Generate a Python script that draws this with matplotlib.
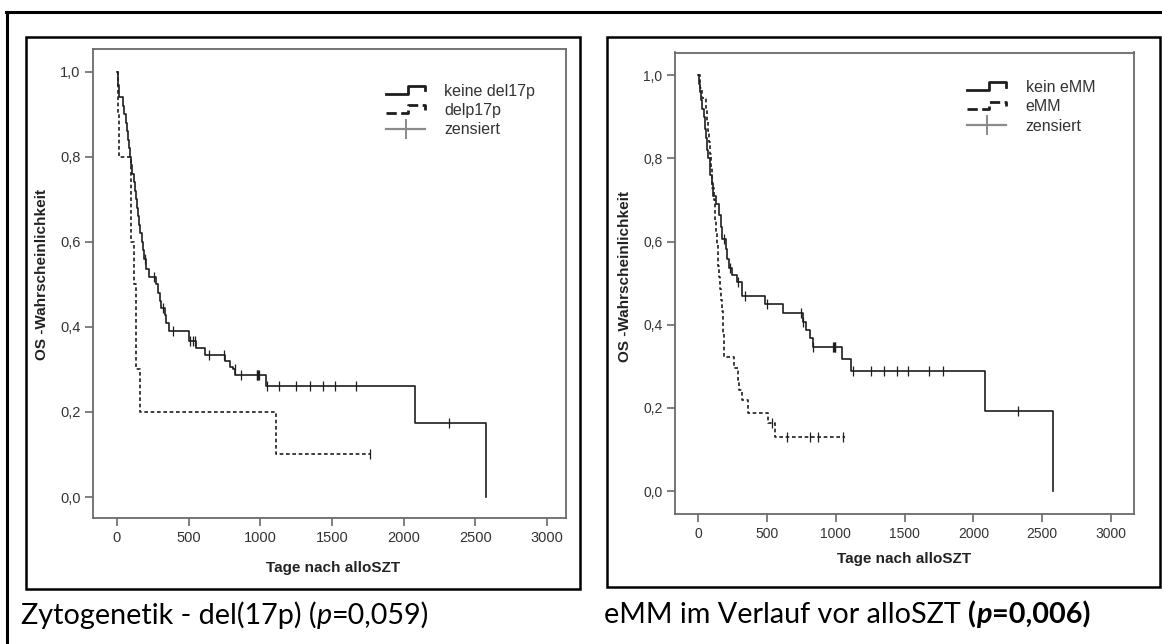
import numpy as np
import matplotlib
matplotlib.use("Agg")
import matplotlib.pyplot as plt
from matplotlib.lines import Line2D
from matplotlib.patches import Rectangle
from matplotlib.text import Annotation
from matplotlib.legend_handler import HandlerBase

# ---- data: Kaplan-Meier steps (days, survival) and censored times ----
# left panel: del(17p)
keine_del17p_t = [0, 8, 17, 45, 52, 60, 68, 76, 84, 92, 100, 108, 116, 124, 132, 140,
                  148, 156, 164, 172, 180, 188, 205, 222, 270, 283, 298, 310, 332, 345,
                  362, 500, 554, 617, 757, 792, 811, 827, 1040, 2079, 2574]
keine_del17p_s = [1.0, 0.97, 0.94, 0.92, 0.90, 0.88, 0.86, 0.84, 0.82, 0.80, 0.78, 0.76,
                  0.74, 0.72, 0.70, 0.68, 0.66, 0.64, 0.62, 0.60, 0.58, 0.56, 0.537, 0.518,
                  0.50, 0.48, 0.46, 0.445, 0.428, 0.41, 0.39, 0.368, 0.35, 0.335, 0.32,
                  0.307, 0.30, 0.286, 0.26, 0.173, 0.0]
keine_del17p_cens = [198, 262, 322, 390, 512, 530, 547, 640, 745, 822, 869, 974, 980,
                     985, 990, 1049, 1128, 1250, 1348, 1437, 1521, 1668, 2317]

del17p_t = [0, 5, 17, 95, 100, 116, 132, 136, 161, 1107, 1768]
del17p_s = [1.0, 0.9, 0.8, 0.7, 0.6, 0.5, 0.4, 0.3, 0.2, 0.1, 0.1]
del17p_cens = [1768]

# right panel: eMM
kein_emm_t = [0, 8, 14, 22, 30, 42, 54, 60, 66, 75, 90, 100, 110, 130, 155, 165, 172,
              200, 213, 228, 250, 280, 317, 490, 614, 760, 784, 813, 832, 1044, 1112,
              2087, 2580]
kein_emm_s = [1.0, 0.98, 0.96, 0.94, 0.92, 0.90, 0.87, 0.85, 0.82, 0.80, 0.76, 0.74,
              0.71, 0.69, 0.663, 0.635, 0.607, 0.583, 0.559, 0.536, 0.52, 0.503, 0.468,
              0.45, 0.429, 0.407, 0.387, 0.367, 0.347, 0.317, 0.289, 0.192, 0.0]
kein_emm_cens = [189, 232, 293, 343, 502, 745, 766, 837, 978, 985, 992, 998, 1128,
                 1255, 1352, 1444, 1524, 1675, 1777, 2325]

emm_t = [0, 15, 30, 55, 65, 72, 80, 85, 95, 100, 105, 118, 124, 127, 130, 140, 143,
         146, 150, 163, 168, 175, 180, 185, 188, 191, 262, 290, 300, 318, 360, 505,
         559, 1068]
emm_s = [1.0, 0.97, 0.946, 0.92, 0.89, 0.865, 0.84, 0.81, 0.78, 0.757, 0.73, 0.70,
         0.676, 0.649, 0.622, 0.595, 0.568, 0.541, 0.514, 0.487, 0.46, 0.433, 0.406,
         0.379, 0.352, 0.323, 0.295, 0.267, 0.243, 0.219, 0.187, 0.163, 0.131, 0.131]
emm_cens = [534, 643, 813, 874, 1056]

y_ticks = [0.0, 0.2, 0.4, 0.6, 0.8, 1.0]
y_ticklabels = ["0,0", "0,2", "0,4", "0,6", "0,8", "1,0"]
x_ticks = [0, 500, 1000, 1500, 2000, 2500, 3000]

W, H = 1162, 644
FONT = "Liberation Sans"
LINE = "#1e1e1e"


def km_at(times, surv, t):
    idx = np.searchsorted(np.asarray(times), t, side="right") - 1
    return np.asarray(surv)[idx]


class StepHandler(HandlerBase):
    def create_artists(self, legend, orig_handle, xdescent, ydescent, width, height,
                       fontsize, trans):
        x0, y0 = -xdescent, -ydescent
        xs = [x0, x0 + 0.55 * width, x0 + 0.55 * width, x0 + width, x0 + width]
        ys = [y0 + 0.15 * height, y0 + 0.15 * height, y0 + 0.85 * height,
              y0 + 0.85 * height, y0 + 0.45 * height]
        ln = Line2D(xs, ys, color=orig_handle.get_color(), lw=2.0,
                    linestyle=orig_handle.get_linestyle(), transform=trans)
        return [ln]


def fx(px):
    return px / W


def fy(py):
    return 1 - py / H


def draw_panel(ax, curves, labels, tick_fs, lab_fs, xlim, ylim, ylab_pos, xlab_pos,
               leg_anchor):
    handles = []
    for (t, s, c, ls) in curves:
        ax.step(t, s, where="post", color=LINE, lw=1.2, ls=ls)
        ax.plot(c, km_at(t, s, c), ls="none", marker="|", ms=7, mew=0.9, color=LINE)
        handles.append(Line2D([], [], color=LINE, ls=ls))
    cens_h = Line2D([], [], color="#8a8a8a", lw=1.6, marker="|", ms=14, mew=1.4)
    handles.append(cens_h)
    ax.set_xlim(*xlim)
    ax.set_ylim(*ylim)
    ax.set_xticks(x_ticks)
    ax.set_xticklabels([str(v) for v in x_ticks])
    ax.set_yticks(y_ticks)
    ax.set_yticklabels(y_ticklabels)
    for sp in ax.spines.values():
        sp.set_color("#6a6a6a")
        sp.set_linewidth(1.3)
    ax.tick_params(direction="out", length=6, width=1.2, color="#6a6a6a",
                   labelsize=tick_fs, labelcolor="#333333", pad=3)
    for lbl in ax.get_xticklabels() + ax.get_yticklabels():
        lbl.set_family(FONT)
    ax.set_ylabel("OS -Wahrscheinlichkeit", fontsize=lab_fs, fontweight="bold",
                  family=FONT, color="#222222", va="center")
    ax.yaxis.set_label_coords(*ylab_pos)
    ax.set_xlabel("Tage nach alloSZT", fontsize=lab_fs, fontweight="bold",
                  family=FONT, color="#222222", va="center")
    ax.xaxis.set_label_coords(*xlab_pos)
    hm = {handles[0]: StepHandler(), handles[1]: StepHandler()}
    leg = ax.legend(handles, labels + ["zensiert"], handler_map=hm, loc="upper left",
                    bbox_to_anchor=leg_anchor, frameon=False, handlelength=2.45,
                    handletextpad=1.2, labelspacing=0.28, borderaxespad=0,
                    prop={"family": FONT, "size": 11.5})
    for txt in leg.get_texts():
        txt.set_color("#333333")


fig = plt.figure(figsize=(W / 100, H / 100), dpi=100)
fig.patch.set_facecolor("white")

# outer table lines and inner boxes
fig.add_artist(Line2D([fx(7), fx(7)], [fy(12), 0], color="black", lw=2.2,
                      transform=fig.transFigure))
fig.add_artist(Line2D([fx(6), 1], [fy(12), fy(12)], color="black", lw=2.2,
                      transform=fig.transFigure))
for (x0, y0, x1, y1) in [(26, 37, 580, 589), (607, 37, 1160, 587)]:
    fig.add_artist(Rectangle((fx(x0), fy(y1)), fx(x1) - fx(x0), fy(y0) - fy(y1),
                             fill=False, ec="black", lw=1.8, transform=fig.transFigure))

ax1 = fig.add_axes([fx(93), fy(518), fx(566) - fx(93), fy(49) - fy(518)])
draw_panel(ax1,
           [(keine_del17p_t, keine_del17p_s, keine_del17p_cens, "-"),
            (del17p_t, del17p_s, del17p_cens, (0, (2.2, 1.6)))],
           ["keine del17p", "delp17p"], 10.5, 11,
           (-167, 3133), (-0.0494, 1.054), (-0.108, 0.52), (0.507, -0.107),
           (0.606, 0.94))

ax2 = fig.add_axes([fx(675), fy(514), fx(1134) - fx(675), fy(52.5) - fy(514)])
draw_panel(ax2,
           [(kein_emm_t, kein_emm_s, kein_emm_cens, "-"),
            (emm_t, emm_s, emm_cens, (0, (2.2, 1.6)))],
           ["kein eMM", "eMM"], 10, 11,
           (-167, 3167), (-0.0553, 1.055), (-0.11, 0.514), (0.499, -0.098),
           (0.623, 0.955))

# captions
CAP = "Lato"
CAP_FS = 20.7
t1 = fig.text(fx(21), fy(624), "Zytogenetik - del(17p) (", fontsize=CAP_FS,
              family=CAP, va="baseline")
t2 = fig.add_artist(Annotation("p", xy=(1, 0), xycoords=t1, va="bottom",
                               fontsize=CAP_FS, family=CAP, style="italic"))
fig.add_artist(Annotation("=0,059)", xy=(1, 0), xycoords=t2, va="bottom",
                          fontsize=CAP_FS, family=CAP))

r1 = fig.text(fx(604), fy(623), "eMM im Verlauf vor alloSZT ", fontsize=CAP_FS,
              family=CAP, va="baseline")
r2 = fig.add_artist(Annotation("(", xy=(1, 0), xycoords=r1, va="bottom",
                               fontsize=CAP_FS, family=CAP, weight="bold"))
r3 = fig.add_artist(Annotation("p", xy=(1, 0), xycoords=r2, va="bottom",
                               fontsize=CAP_FS, family=CAP, weight="bold",
                               style="italic"))
fig.add_artist(Annotation("=0,006)", xy=(1, 0), xycoords=r3, va="bottom",
                          fontsize=CAP_FS, family=CAP, weight="bold"))

fig.savefig("out.png", dpi=100, facecolor="white")
